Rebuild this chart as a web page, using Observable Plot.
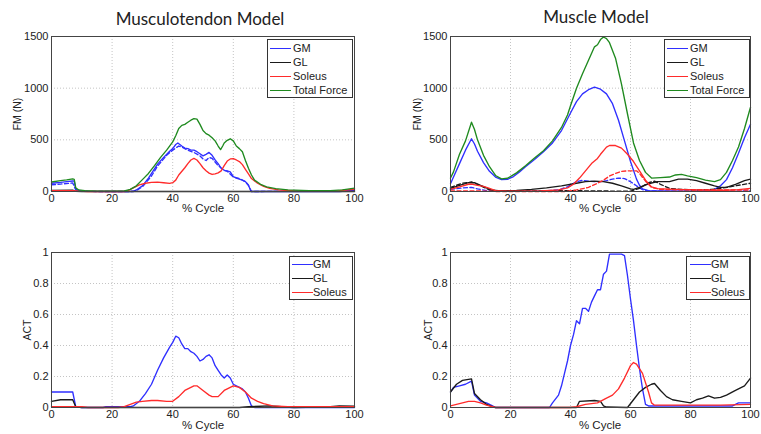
<!DOCTYPE html>
<html>
<head>
<meta charset="utf-8">
<script src="https://cdn.jsdelivr.net/npm/d3@7"></script>
<script src="https://cdn.jsdelivr.net/npm/@observablehq/plot@0.6"></script>
<style>
  html, body { margin: 0; padding: 0; background: #fff; }
  #wrap { position: relative; width: 761px; height: 434px; overflow: hidden; background: #fff; font-family: "Liberation Sans", Arial, sans-serif; color: #222; }
  .abs { position: absolute; }
  .title { font-family: Lato, "Open Sans", sans-serif; font-size: 17px; color: #222; text-align: center; white-space: nowrap; }
  .xlab { font-size: 11.5px; text-align: center; white-space: nowrap; }
  .ylab { font-size: 10.5px; white-space: nowrap; transform: translate(-50%, -50%) rotate(-90deg); }
  .legend { border: 1px solid #333; background: #fff; box-sizing: border-box; font-size: 11px; }
  .legend .row { position: absolute; height: 14px; line-height: 14px; white-space: nowrap; }
  .legend .sw { position: absolute; top: 7px; height: 0; border-top: 1.5px solid; }
  svg { max-width: none !important; overflow: visible; }
</style>
</head>
<body>
<div id="wrap"></div>
<script>
// ---------- ticks ----------
const xTicks = [0, 20, 40, 60, 80, 100];
const forceTicks = [0, 500, 1000, 1500];
const actTicks = [0, 0.2, 0.4, 0.6, 0.8, 1];

// ---------- Musculotendon model: force (N) ----------
const mtForceGM = [[0,80],[3,88],[5,95],[7,102],[7.5,100],[8,20],[9,8],[12,2],[20,0],[26,0],[27,2],[28,15],[30,55],[32,130],[35,265],[37,330],[39,390],[40,415],[41,455],[41.7,470],[43,440],[44,420],[45,415],[46,400],[47,400],[48,385],[49,365],[50,345],[51,360],[52,378],[53,350],[54,305],[55,270],[56,225],[57,205],[58,200],[59,190],[60,145],[61,130],[62,120],[63,110],[64,95],[65,60],[65.8,5],[66,0],[95,0],[100,12]];
const mtForceGMdash = [[0,65],[3,72],[7,82],[8,15],[10,3],[15,0],[27,0],[28,10],[30,45],[33,150],[35,245],[38,350],[40,400],[42,440],[43,430],[45,400],[47,378],[49,345],[50,315],[51,300],[52,330],[53,320],[55,250],[57,205],[58,195],[60,140],[62,125],[64,95],[65,60],[66,0],[100,5]];
const mtForceGL = [[0,10],[7,12],[8,2],[10,0],[100,0]];
const mtForceSol = [[0,8],[7,8],[9,3],[12,0],[24,0],[25,5],[27,35],[29,65],[31,80],[33,88],[35,90],[37,85],[39,78],[40,85],[41,110],[42,160],[44,230],[45,270],[46,305],[47,320],[48,305],[49,270],[50,230],[51,200],[52,178],[53,165],[54,170],[55,180],[56,200],[57,250],[58,295],[59,315],[60,318],[61,305],[62,290],[63,260],[64,215],[65,170],[66,125],[68,80],[70,50],[72,30],[75,15],[80,5],[90,3],[95,8],[100,22]];
const mtForceTotal = [[0,92],[3,105],[5,112],[7,122],[7.5,118],[8,35],[9,15],[11,8],[15,3],[20,3],[24,5],[26,20],[28,55],[30,115],[32,175],[34,250],[36,330],[38,400],[40,480],[41,540],[42,610],[43,640],[44,650],[45,670],[46,690],[47,705],[48,700],[49,650],[50,590],[51,560],[52,545],[53,520],[54,490],[55,440],[55.8,405],[56.5,440],[57,470],[58,495],[59,510],[60,490],[61,440],[62,415],[63,385],[64,300],[65,225],[66,160],[67,110],[69,70],[71,45],[74,28],[78,15],[85,8],[92,8],[96,15],[100,32]];

// ---------- Muscle model: force (N) ----------
const mForceGM = [[0,75],[1,140],[3,270],[5,400],[7,510],[8,460],[9,390],[11,280],[13,195],[15,140],[17,115],[19,118],[21,145],[23,190],[25,240],[28,310],[31,385],[34,470],[37,590],[40,760],[42,870],[44,945],[46,985],[48,1010],[50,990],[52,945],[54,850],[56,690],[58,490],[60,290],[62,120],[63,60],[64,25],[66,8],[70,5],[80,3],[86,8],[88,20],[90,55],[92,115],[94,230],[96,370],[98,520],[100,650]];
const mForceGMdash = [[0,20],[4,35],[7,40],[9,25],[12,8],[15,2],[30,2],[36,15],[39,45],[42,95],[44,108],[46,100],[48,95],[50,95],[52,105],[54,120],[56,130],[58,125],[60,95],[62,55],[64,18],[66,5],[75,3],[90,3],[100,5]];
const mForceGL = [[0,30],[3,60],[6,85],[8,85],[10,60],[12,35],[14,12],[17,5],[22,10],[27,20],[32,35],[37,55],[42,80],[45,95],[48,100],[51,95],[54,80],[57,55],[60,25],[61,20],[63,40],[66,75],[69,95],[73,95],[76,120],[79,120],[82,105],[85,80],[88,55],[90,40],[92,40],[95,70],[98,105],[100,120]];
const mForceGLdash = [[0,40],[4,80],[7,92],[10,55],[13,15],[16,5],[30,5],[40,8],[50,5],[60,3],[63,30],[66,85],[68,100],[70,70],[73,30],[77,20],[82,15],[87,20],[91,35],[95,55],[100,80]];
const mForceSol = [[0,20],[3,45],[6,70],[7,72],[9,60],[11,50],[13,30],[15,8],[18,3],[30,5],[36,15],[39,35],[41,70],[43,130],[45,200],[47,270],[49,320],[50,360],[52,430],[53,445],[55,445],[57,420],[59,360],[61,290],[63,200],[65,110],[67,45],[69,28],[75,20],[82,15],[88,12],[92,12],[96,18],[100,30]];
const mForceSolDash = [[0,5],[10,5],[15,0],[38,0],[42,15],[46,40],[49,80],[51,110],[53,150],[55,175],[57,195],[59,200],[62,200],[63,175],[65,100],[67,40],[70,20],[80,15],[90,15],[100,15]];
const mForceTotal = [[0,130],[1,190],[3,360],[5,490],[7,670],[8,600],[9,500],[11,350],[13,240],[15,155],[17,122],[19,128],[22,180],[25,250],[28,325],[31,395],[34,490],[37,620],[39,740],[40,830],[42,1000],[44,1140],[46,1270],[48,1400],[49,1420],[50,1470],[51,1495],[52,1480],[53,1440],[55,1290],[57,1040],[59,750],[61,470],[63,300],[65,185],[67,130],[70,135],[73,140],[75,160],[77,165],[79,152],[82,135],[85,110],[88,95],[90,115],[92,185],[94,300],[96,430],[98,610],[100,815]];

// ---------- Musculotendon model: activation ----------
const mtActGM = [[0,0.1],[7,0.1],[8,0.005],[10,0],[17,0],[18,0.005],[26,0.005],[27,0.01],[29,0.04],[31,0.09],[33,0.15],[35,0.24],[37,0.32],[39,0.39],[40,0.42],[41,0.46],[42,0.45],[43,0.41],[44,0.38],[45,0.38],[46,0.36],[47,0.35],[48,0.33],[49,0.30],[50,0.31],[51,0.33],[52,0.34],[53,0.32],[54,0.27],[55,0.24],[56,0.21],[57,0.19],[58,0.21],[59,0.19],[60,0.15],[62,0.13],[63,0.12],[64,0.10],[65,0.06],[66,0.01],[67,0],[100,0]];
const mtActGL = [[0,0.04],[3,0.05],[7,0.05],[8,0.005],[10,0],[62,0],[65,0.005],[72,0.01],[76,0.005],[80,0],[92,0.005],[95,0.01],[100,0.008]];
const mtActSol = [[0,0.005],[10,0.005],[12,0],[22,0],[24,0.005],[26,0.02],[28,0.035],[30,0.04],[33,0.045],[35,0.045],[38,0.04],[40,0.04],[42,0.07],[44,0.11],[46,0.13],[47,0.14],[48,0.14],[50,0.11],[52,0.08],[53,0.07],[55,0.07],[57,0.11],[59,0.13],[60,0.14],[62,0.13],[64,0.10],[66,0.06],[68,0.04],[70,0.025],[73,0.01],[78,0.005],[100,0.005]];

// ---------- Muscle model: activation ----------
const mActGM = [[0,0.10],[1,0.13],[3,0.14],[5,0.15],[7,0.17],[8,0.08],[10,0.04],[12,0.03],[14,0.01],[15,0],[33,0],[34,0.03],[36,0.08],[37,0.14],[38,0.22],[39,0.30],[40,0.40],[41,0.47],[42,0.56],[43,0.54],[44,0.64],[45,0.64],[46,0.62],[47,0.68],[48,0.72],[49,0.76],[50,0.76],[51,0.86],[52,0.88],[53,0.99],[57,0.99],[58,0.98],[59,0.85],[60,0.70],[61,0.56],[62,0.40],[63,0.25],[64,0.12],[65,0.02],[66,0.01],[88,0.01],[94,0.01],[96,0.03],[100,0.03]];
const mActGL = [[0,0.10],[2,0.15],[4,0.175],[7,0.185],[8,0.09],[10,0.05],[12,0.02],[14,0.005],[15,0],[42,0],[43,0.04],[48,0.045],[50,0.04],[51,0.01],[52,0.003],[59,0],[61,0.05],[63,0.10],[65,0.13],[67,0.15],[68,0.155],[70,0.11],[72,0.07],[74,0.05],[77,0.04],[80,0.03],[82,0.05],[84,0.06],[86,0.075],[88,0.06],[90,0.065],[92,0.08],[95,0.11],[98,0.14],[100,0.19]];
const mActSol = [[0,0.01],[3,0.025],[6,0.04],[8,0.04],[10,0.03],[12,0.015],[14,0.005],[15,0],[40,0],[42,0.005],[45,0.02],[49,0.03],[52,0.06],[54,0.08],[56,0.12],[58,0.19],[60,0.27],[61,0.29],[62,0.28],[64,0.22],[66,0.10],[67,0.03],[68,0.015],[90,0.015],[100,0.02]];

// ---------- styling ----------
const BLUE = "#2f2fff", BLACK = "#1a1a1a", RED = "#ff2b2b", GREEN = "#1f8a1f";
const wrap = document.getElementById("wrap");

function panel(cfg) {
  const marks = [
    Plot.gridX(xTicks, {stroke: "#c4c4c4", strokeOpacity: 1, strokeDasharray: "1,2"}),
    Plot.gridY(cfg.yTicks, {stroke: "#c4c4c4", strokeOpacity: 1, strokeDasharray: "1,2"}),
    ...cfg.series.map(s => Plot.line(s.data, {
      x: d => d[0], y: d => d[1], stroke: s.color, strokeWidth: 1.35,
      strokeDasharray: s.dash ? "4,2.5" : undefined
    })),
    Plot.frame({stroke: "#444", strokeWidth: 1}),
    Plot.axisX(xTicks, {tickSize: 0, tickPadding: 3, label: null, fontSize: 11}),
    Plot.axisY(cfg.yTicks, {tickSize: 0, tickPadding: 3, label: null, fontSize: 11, tickFormat: cfg.fmt})
  ];
  const svg = Plot.plot({
    width: cfg.w, height: cfg.h,
    marginLeft: cfg.ml, marginRight: cfg.mr, marginTop: cfg.mt, marginBottom: cfg.mb,
    x: {domain: [0, 100]},
    y: {domain: cfg.yDomain},
    style: {fontFamily: "'Liberation Sans', Arial, sans-serif", fontSize: "11px", color: "#222", background: "transparent", overflow: "visible"},
    marks
  });
  svg.style.position = "absolute";
  svg.style.left = cfg.left + "px";
  svg.style.top = cfg.top + "px";
  wrap.appendChild(svg);
}

function addText(cls, text, css) {
  const d = document.createElement("div");
  d.className = "abs " + cls;
  d.textContent = text;
  Object.assign(d.style, css);
  wrap.appendChild(d);
}

function legend(items, box) {
  const lg = document.createElement("div");
  lg.className = "abs legend";
  Object.assign(lg.style, {left: box.x + "px", top: box.y + "px", width: box.w + "px", height: box.h + "px"});
  items.forEach((it, i) => {
    const row = document.createElement("div");
    row.className = "row";
    Object.assign(row.style, {left: "0px", top: (box.pad + i * 14) + "px", width: "100%"});
    const sw = document.createElement("div");
    sw.className = "sw";
    Object.assign(sw.style, {left: box.sx + "px", width: "21px", borderTopColor: it.color});
    const tx = document.createElement("span");
    tx.textContent = it.label;
    Object.assign(tx.style, {position: "absolute", left: box.tx + "px"});
    row.appendChild(sw); row.appendChild(tx);
    lg.appendChild(row);
  });
  wrap.appendChild(lg);
}

// ----- Top-left: Musculotendon force -----
panel({left: 0, top: 30, w: 380, h: 195, ml: 51, mr: 26, mt: 6, mb: 34,
  yDomain: [0, 1500], yTicks: forceTicks, fmt: d => String(d),
  series: [
    {data: mtForceGM, color: BLUE}, {data: mtForceGMdash, color: BLUE, dash: true},
    {data: mtForceGL, color: BLACK},
    {data: mtForceSol, color: RED},
    {data: mtForceTotal, color: GREEN}
  ]});
// ----- Top-right: Muscle force -----
panel({left: 380, top: 30, w: 381, h: 195, ml: 70, mr: 11, mt: 6, mb: 34,
  yDomain: [0, 1500], yTicks: forceTicks, fmt: d => String(d),
  series: [
    {data: mForceGM, color: BLUE}, {data: mForceGMdash, color: BLUE, dash: true},
    {data: mForceGL, color: BLACK}, {data: mForceGLdash, color: BLACK, dash: true},
    {data: mForceSol, color: RED}, {data: mForceSolDash, color: RED, dash: true},
    {data: mForceTotal, color: GREEN}
  ]});
// ----- Bottom-left: Musculotendon activation -----
panel({left: 0, top: 240, w: 380, h: 194, ml: 51, mr: 26, mt: 12, mb: 27,
  yDomain: [0, 1], yTicks: actTicks, fmt: d => String(d),
  series: [
    {data: mtActGM, color: BLUE}, {data: mtActGL, color: BLACK}, {data: mtActSol, color: RED}
  ]});
// ----- Bottom-right: Muscle activation -----
panel({left: 380, top: 240, w: 381, h: 194, ml: 70, mr: 11, mt: 12, mb: 27,
  yDomain: [0, 1], yTicks: actTicks, fmt: d => String(d),
  series: [
    {data: mActGM, color: BLUE}, {data: mActGL, color: BLACK}, {data: mActSol, color: RED}
  ]});

// Titles
addText("title", "Musculotendon Model", {left: "100px", width: "200px", top: "8px"});
addText("title", "Muscle Model", {left: "496px", width: "200px", top: "6px"});
// x labels
addText("xlab", "% Cycle", {left: "153px", width: "100px", top: "202px"});
addText("xlab", "% Cycle", {left: "550px", width: "100px", top: "202px"});
addText("xlab", "% Cycle", {left: "153px", width: "100px", top: "419px"});
addText("xlab", "% Cycle", {left: "550px", width: "100px", top: "419px"});
// y labels
addText("ylab", "FM (N)", {left: "17px", top: "114px"});
addText("ylab", "FM (N)", {left: "417px", top: "114px"});
addText("ylab", "ACT", {left: "27px", top: "330px"});
addText("ylab", "ACT", {left: "428px", top: "330px"});

// Legends
const forceItems = [{label: "GM", color: BLUE}, {label: "GL", color: BLACK}, {label: "Soleus", color: RED}, {label: "Total Force", color: GREEN}];
const actItems = [{label: "GM", color: BLUE}, {label: "GL", color: BLACK}, {label: "Soleus", color: RED}];
legend(forceItems, {x: 267, y: 39, w: 86, h: 59, pad: 1, sx: 2, tx: 25});
legend(forceItems, {x: 664, y: 39, w: 86, h: 59, pad: 1, sx: 2, tx: 25});
legend(actItems, {x: 289, y: 256, w: 64, h: 44, pad: 0, sx: 2, tx: 23});
legend(actItems, {x: 686, y: 256, w: 64, h: 44, pad: 0, sx: 3, tx: 24});
</script>
</body>
</html>
